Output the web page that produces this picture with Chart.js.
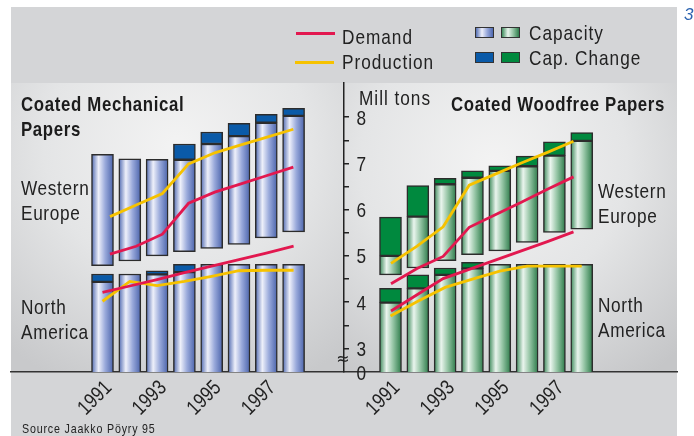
<!DOCTYPE html>
<html><head><meta charset="utf-8">
<script src="https://cdn.jsdelivr.net/npm/chart.js@4.4.1/dist/chart.umd.min.js"></script>
<style>
html,body{margin:0;padding:0;background:#fff;}
#wrap{position:relative;width:694px;height:436px;overflow:hidden;background:#fff;font-family:'Liberation Sans',Arial,sans-serif;color:#222;}
.bg{position:absolute;}
#frame{left:11px;top:7px;width:666px;height:429px;background:#d4d5d7;}
#plotL{left:11px;top:83px;width:333px;height:289px;background:radial-gradient(ellipse 80% 90% at 50% 22%, #f3f3f3 0%, #e4e5e6 50%, #c8c9cb 100%);}
#plotR{left:344px;top:83px;width:333px;height:289px;background:radial-gradient(ellipse 80% 90% at 45% 28%, #f3f3f3 0%, #e4e5e6 50%, #c5c6c8 100%);}
canvas{position:absolute;left:0;top:0;}
.t{position:absolute;white-space:nowrap;font-size:21px;line-height:21px;letter-spacing:1.2px;color:#222;transform:scaleX(0.82);transform-origin:0 0;}
.b{font-weight:bold;font-size:20.5px;line-height:24.7px;letter-spacing:0.8px;color:#1c1c1c;}
.two{line-height:25px;letter-spacing:0.8px;}
.sw{position:absolute;width:17px;height:9px;border:1px solid #333;}
.ln{position:absolute;height:3px;width:39px;}
</style></head>
<body>
<div id="wrap">
  <div class="bg" id="frame"></div>
  <div class="bg" id="plotL"></div>
  <div class="bg" id="plotR"></div>
  <canvas id="c" width="694" height="436"></canvas>

  <div class="ln" style="left:296px;top:32px;background:#e2184f;"></div>
  <div class="ln" style="left:295px;top:60.5px;background:#f6c200;"></div>
  <div class="t" style="left:342px;top:25.6px;">Demand</div>
  <div class="t" style="left:342px;top:50.6px;">Production</div>
  <div class="sw" style="left:475px;top:26.5px;background:linear-gradient(90deg,#5570b4 0%,#eef0fa 35%,#9aaadb 65%,#4e68b0 100%);"></div>
  <div class="sw" style="left:501px;top:26.5px;background:linear-gradient(90deg,#3f8d5d 0%,#eaf5ee 35%,#94c4a4 65%,#2f7d4c 100%);"></div>
  <div class="sw" style="left:475px;top:51.5px;background:#0a5aa8;"></div>
  <div class="sw" style="left:501px;top:51.5px;background:#00893e;"></div>
  <div class="t" style="left:529px;top:22.3px;">Capacity</div>
  <div class="t" style="left:529px;top:46.6px;">Cap. Change</div>

  <div class="t b" style="left:21px;top:92.2px;">Coated Mechanical<br>Papers</div>
  <div class="t b" style="left:451px;top:91.9px;">Coated Woodfree Papers</div>
  <div class="t" style="left:359px;top:87.3px;">Mill tons</div>
  <div class="t two" style="left:20.5px;top:175.3px;">Western<br>Europe</div>
  <div class="t two" style="left:20.5px;top:293.6px;">North<br>America</div>
  <div class="t two" style="left:598px;top:178px;">Western<br>Europe</div>
  <div class="t two" style="left:598px;top:293px;line-height:24.5px;">North<br>America</div>
  <div class="t" style="left:22px;top:422.3px;font-size:13px;line-height:13px;letter-spacing:1px;">Source Jaakko Pöyry 95</div>
  <div class="t" style="left:684px;top:5.5px;font-size:17px;line-height:17px;font-style:italic;color:#2a62b0;letter-spacing:0;transform:none;">3</div>
</div>
<script>
// ---------- data ----------
const years = [1991, 1992, 1993, 1994, 1995, 1996, 1997, 1998];
const yearTickLabels = [1991, 1993, 1995, 1997];
const valueTicks = [3, 3.5, 4, 4.5, 5, 5.5, 6, 6.5, 7, 7.5, 8];

// Coated Mechanical Papers (mill tons)
const mechWeBase       = [4.79, 4.89, 5.00, 5.09, 5.16, 5.25, 5.39, 5.52];
const mechWeCapacity   = [7.20, 7.10, 7.09, 7.08, 7.42, 7.59, 7.88, 8.03];
const mechWeChange     = [0, 0, 0, 0.34, 0.26, 0.28, 0.18, 0.16];
const mechWeDemand     = [5.04, 5.21, 5.47, 6.14, 6.38, 6.56, 6.74, 6.92];
const mechWeProduction = [5.85, 6.10, 6.35, 6.99, 7.23, 7.40, 7.57, 7.74];
const mechNaCapacity   = [4.44, 4.61, 4.60, 4.65, 4.82, 4.82, 4.82, 4.82];
const mechNaChange     = [0.17, 0, 0.08, 0.17, 0, 0, 0, 0];
const mechNaDemand     = [4.21, 4.35, 4.49, 4.64, 4.78, 4.92, 5.06, 5.21];
const mechNaProduction = [4.02, 4.45, 4.36, 4.45, 4.56, 4.68, 4.69, 4.69];

// Coated Woodfree Papers (mill tons)
const wfWeBase       = [4.59, 4.74, 4.90, 5.03, 5.11, 5.29, 5.51, 5.58];
const wfWeCapacity   = [5.00, 5.85, 6.55, 6.69, 6.84, 6.94, 7.17, 7.49];
const wfWeChange     = [0.84, 0.67, 0.13, 0.15, 0.11, 0.22, 0.30, 0.18];
const wfWeDemand     = [4.40, 4.73, 4.99, 5.62, 5.89, 6.16, 6.44, 6.71];
const wfWeProduction = [4.84, 5.21, 5.63, 6.53, 6.77, 7.01, 7.24, 7.48];
const wfNaCapacity   = [3.99, 4.30, 4.59, 4.73, 4.82, 4.82, 4.82, 4.82];
const wfNaChange     = [0.31, 0.29, 0.15, 0.13, 0, 0, 0, 0];
const wfNaDemand     = [3.81, 4.16, 4.51, 4.71, 4.91, 5.11, 5.31, 5.52];
const wfNaProduction = [3.70, 4.02, 4.32, 4.50, 4.67, 4.78, 4.78, 4.78];

// ---------- layout ----------
const LABEL_FONT = "21px 'Liberation Sans', Arial, sans-serif";
const CONDENSE = 0.82, CAP_H = 15;
const AREA_L = 11, AREA_R = 677, AREA_W = AREA_R - AREA_L;
const Y_MIN = 2.49, Y_MAX = 8.74;
const BAR_W = 22;
function range(px1991, pitch) {
  const min = 1991 - (px1991 - AREA_L) / pitch;
  return {min: min, max: min + AREA_W / pitch};
}
const XL = range(102.5, 27.3), XR = range(390.5, 27.32);
const XLW = range(110, 26.19), XRW = range(391, 26.07);
const Y_AXIS_AT = XL.min + (344 - AREA_L) / 27.3;

const RED = '#e2184f', YELLOW = '#f6c200';
const BLUE_CYL = ['#4e68b0', '#eef0fa', '#9aaadb', '#4a63ab'];
const GREEN_CYL = ['#3a8858', '#eaf5ee', '#94c4a4', '#2c7a49'];
const BLUE_DARK = '#0a5aa8', GREEN_DARK = '#00893e';

function cylinder(cols) {
  return (c) => {
    const ds = c.dataset;
    if (c.type !== 'data' || !ds) return cols[2];
    const sc = c.chart.scales[ds.xAxisID];
    const raw = ds.data[c.dataIndex];
    if (!sc || !raw) return cols[2];
    const x = sc.getPixelForValue(raw.x);
    if (!isFinite(x)) return cols[2];
    const g = c.chart.ctx.createLinearGradient(x - BAR_W / 2, 0, x + BAR_W / 2, 0);
    g.addColorStop(0, cols[0]); g.addColorStop(0.32, cols[1]);
    g.addColorStop(0.62, cols[2]); g.addColorStop(1, cols[3]);
    return g;
  };
}
function barDs(axis, points, color) {
  return {type: 'bar', xAxisID: axis, data: points, backgroundColor: color,
    borderColor: '#2c2c2c', borderWidth: 1.5, borderSkipped: false,
    barThickness: BAR_W, grouped: false, order: 2};
}
function lineDs(axis, vals, color) {
  return {type: 'line', xAxisID: axis, data: years.map((yr, i) => ({x: yr, y: vals[i]})),
    borderColor: color, borderWidth: 2.8, pointRadius: 0, tension: 0, fill: false, order: 0};
}
const floating = (base, top) => years.map((yr, i) => ({x: yr, y: [base[i], top[i]]}));
const plain = (vals) => years.map((yr, i) => ({x: yr, y: vals[i]}));
const changeSeg = (cap, chg) => years.map((yr, i) => ({x: yr, y: chg[i] ? [cap[i], cap[i] + chg[i]] : null}));

const datasets = [
  lineDs('xlW', mechWeDemand, RED), lineDs('xlW', mechWeProduction, YELLOW),
  lineDs('xl', mechNaDemand, RED), lineDs('xl', mechNaProduction, YELLOW),
  lineDs('xrW', wfWeDemand, RED), lineDs('xrW', wfWeProduction, YELLOW),
  lineDs('xrW', wfNaDemand, RED), lineDs('xr', wfNaProduction, YELLOW),
  barDs('xl', floating(mechWeBase, mechWeCapacity), cylinder(BLUE_CYL)),
  barDs('xl', changeSeg(mechWeCapacity, mechWeChange), BLUE_DARK),
  barDs('xl', plain(mechNaCapacity), cylinder(BLUE_CYL)),
  barDs('xl', changeSeg(mechNaCapacity, mechNaChange), BLUE_DARK),
  barDs('xr', floating(wfWeBase, wfWeCapacity), cylinder(GREEN_CYL)),
  barDs('xr', changeSeg(wfWeCapacity, wfWeChange), GREEN_DARK),
  barDs('xr', plain(wfNaCapacity), cylinder(GREEN_CYL)),
  barDs('xr', changeSeg(wfNaCapacity, wfNaChange), GREEN_DARK)
];

const zeroPad = (s) => { s.paddingLeft = 0; s.paddingRight = 0; s.paddingTop = 0; s.paddingBottom = 0; };
function yearAxis(r, showBorder) {
  return {type: 'linear', axis: 'x', min: r.min, max: r.max, offset: false, position: {y: Y_MIN},
    afterBuildTicks: (s) => { s.ticks = yearTickLabels.map(v => ({value: v})); },
    afterFit: zeroPad,
    ticks: {display: false, autoSkip: false, callback: (v) => String(v)},
    grid: {display: false, drawTicks: false, offset: false},
    border: {display: showBorder, color: '#333', width: 1.5}};
}
function hiddenAxis(r) {
  return {type: 'linear', axis: 'x', min: r.min, max: r.max, offset: false, display: false};
}

// condensed (Helvetica-Condensed-like) labels for the scales' own ticks
function condText(ctx, text, x, y, rot) {
  ctx.save();
  ctx.translate(x, y);
  if (rot) ctx.rotate(rot);
  ctx.scale(CONDENSE, 1);
  ctx.fillText(text, 0, CAP_H / 2);
  ctx.restore();
}
const tickLabels = {
  id: 'tickLabels',
  afterDraw(chart) {
    const ctx = chart.ctx, ys = chart.scales.y;
    const axisPx = chart.scales.xl.getPixelForValue(Y_AXIS_AT);
    ctx.save();
    ctx.font = LABEL_FONT; ctx.fillStyle = '#222';
    ctx.textAlign = 'right'; ctx.textBaseline = 'alphabetic';
    ys.ticks.forEach((t) => {
      const lab = t.value === Y_MIN ? '0' : (Number.isInteger(t.value) ? String(t.value) : '');
      if (lab) condText(ctx, lab, axisPx + 22, ys.getPixelForValue(t.value), 0);
    });
    const basePx = ys.getPixelForValue(Y_MIN);
    ['xl', 'xr'].forEach((id) => {
      const sc = chart.scales[id];
      sc.ticks.forEach((t) => {
        condText(ctx, String(t.value), sc.getPixelForValue(t.value) + 5, basePx + 11.5, -Math.PI / 4);
      });
    });
    // axis break mark between 0 and 3
    ctx.font = "16px 'DejaVu Sans'";
    ctx.textAlign = 'center'; ctx.textBaseline = 'middle';
    ctx.fillText('≈', axisPx - 1, ys.getPixelForValue((Y_MIN + valueTicks[0]) / 2));
    ctx.restore();
  }
};

new Chart(document.getElementById('c'), {
  data: {datasets: datasets},
  plugins: [tickLabels],
  options: {
    responsive: false, animation: false, events: [],
    layout: {padding: {left: AREA_L, right: 694 - AREA_R, top: 83, bottom: 64}},
    plugins: {legend: {display: false}, tooltip: {enabled: false}},
    scales: {
      xl: yearAxis(XL, true),
      xr: yearAxis(XR, false),
      xlW: hiddenAxis(XLW),
      xrW: hiddenAxis(XRW),
      y: {type: 'linear', min: Y_MIN, max: Y_MAX, position: {xl: Y_AXIS_AT},
        afterBuildTicks: (s) => { s.ticks = [Y_MIN].concat(valueTicks).map(v => ({value: v})); },
        afterFit: zeroPad,
        ticks: {display: false, autoSkip: false},
        grid: {display: true, drawOnChartArea: false, drawTicks: true, tickLength: -6, lineWidth: 1.5,
          color: '#222', tickColor: (c) => (c.tick && c.tick.value === Y_MIN) ? 'rgba(0,0,0,0)' : '#222'},
        border: {display: true, color: '#222', width: 1.5}}
    }
  }
});
</script>
</body></html>
